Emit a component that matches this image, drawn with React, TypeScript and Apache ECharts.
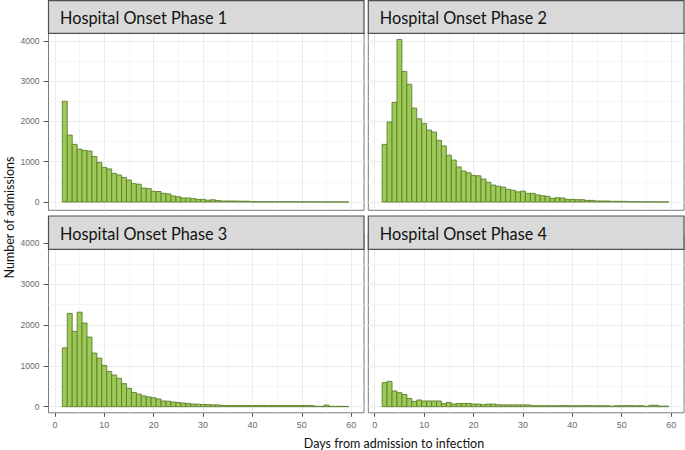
import React, { useEffect, useRef } from "react";
import * as echarts from "echarts";

const days = [2, 3, 4, 5, 6, 7, 8, 9, 10, 11, 12, 13, 14, 15, 16, 17, 18, 19, 20, 21, 22, 23, 24, 25, 26, 27, 28, 29, 30, 31, 32, 33, 34, 35, 36, 37, 38, 39, 40, 41, 42, 43, 44, 45, 46, 47, 48, 49, 50, 51, 52, 53, 54, 55, 56, 57, 58, 59];

const phase1 = [2500, 1660, 1430, 1310, 1280, 1265, 1130, 980, 860, 820, 710, 670, 610, 545, 455, 440, 345, 335, 265, 260, 215, 200, 150, 130, 100, 100, 85, 65, 65, 45, 55, 35, 25, 25, 25, 22, 20, 20, 8, 7, 6, 6, 5, 5, 4, 4, 4, 3, 3, 3, 3, 2, 2, 2, 2, 2, 2, 1];
const phase2 = [1430, 1985, 2470, 4030, 3240, 2920, 2330, 2065, 1950, 1785, 1735, 1530, 1390, 1160, 1040, 870, 770, 725, 660, 650, 570, 490, 420, 390, 370, 315, 290, 250, 270, 215, 215, 175, 155, 140, 90, 105, 100, 65, 65, 58, 58, 40, 40, 25, 25, 25, 17, 17, 15, 15, 5, 4, 4, 3, 3, 3, 2, 2];
const phase3 = [1440, 2285, 1845, 2315, 2050, 1705, 1315, 1190, 1010, 865, 775, 695, 565, 450, 350, 310, 265, 240, 220, 190, 140, 135, 115, 105, 90, 80, 65, 62, 55, 50, 45, 45, 32, 30, 28, 31, 29, 30, 27, 30, 32, 28, 30, 29, 31, 27, 30, 28, 30, 29, 27, 10, 9, 40, 10, 9, 10, 8];
const phase4 = [590, 620, 385, 345, 300, 205, 130, 165, 140, 140, 140, 140, 75, 105, 65, 80, 80, 80, 65, 65, 50, 65, 65, 50, 45, 45, 45, 45, 45, 45, 25, 26, 24, 25, 25, 24, 26, 25, 24, 25, 25, 26, 24, 25, 25, 24, 12, 25, 24, 26, 25, 24, 25, 10, 35, 35, 15, 15];

const panelTitles = ["Hospital Onset Phase 1", "Hospital Onset Phase 2", "Hospital Onset Phase 3", "Hospital Onset Phase 4"];
const panelSeries = [phase1, phase2, phase3, phase4];

const xTickValues = [0, 10, 20, 30, 40, 50, 60];
const xMinorValues = [5, 15, 25, 35, 45, 55];
const yTickValues = [0, 1000, 2000, 3000, 4000];
const yMinorValues = [500, 1500, 2500, 3500];

const xTitle = "Days from admission to infection";
const yTitle = "Number of admissions";

const panels = [
  { left: 48.5, width: 315.5, top: 31.4, height: 178.9, ymin: -206, ymax: 4232, stripY: 0.7, stripH: 32.6, showY: true, showX: false },
  { left: 368.3, width: 315.7, top: 31.4, height: 178.9, ymin: -206, ymax: 4232, stripY: 0.7, stripH: 32.6, showY: false, showX: false },
  { left: 48.5, width: 315.5, top: 233.9, height: 178.9, ymin: -149, ymax: 4232, stripY: 216, stripH: 33.3, showY: true, showX: true },
  { left: 368.3, width: 315.7, top: 233.9, height: 178.9, ymin: -149, ymax: 4232, stripY: 216, stripH: 33.3, showY: false, showX: true },
];

const X_MIN = -1.3;
const X_MAX = 62.6;
const BIN_WIDTH = 1;
const TICK_FONT = "Liberation Sans";
const TITLE_FONT = "Lato";
const BAR_FILL = "#9DCA55";
const BAR_STROKE = "#5F7D30";

export default function App() {
  const ref = useRef<HTMLDivElement>(null);

  useEffect(() => {
    if (!ref.current) return;
    const chart = echarts.init(ref.current, null, { renderer: "svg" });

    const grid: any[] = [];
    const xAxis: any[] = [];
    const yAxis: any[] = [];
    const series: any[] = [];
    const graphic: any[] = [];

    panels.forEach((p, i) => {
      grid.push({
        left: p.left,
        top: p.top,
        width: p.width,
        height: p.height,
        show: true,
        backgroundColor: "#ffffff",
        borderColor: "#7a7a7a",
        borderWidth: 1,
        containLabel: false,
      });
      xAxis.push({
        type: "value",
        gridIndex: i,
        min: X_MIN,
        max: X_MAX,
        axisLine: { show: false, onZero: false },
        axisTick: { show: p.showX, customValues: xTickValues, length: 4, lineStyle: { color: "#555555", width: 1 } },
        axisLabel: { show: p.showX, customValues: xTickValues, color: "#6a6a6a", fontSize: 9, fontFamily: TICK_FONT, margin: 8, formatter: (v: number) => String(v) },
        splitLine: { show: true, lineStyle: { color: "#EBEBEB", width: 1 } },
      });
      xAxis.push({
        type: "value",
        gridIndex: i,
        min: X_MIN,
        max: X_MAX,
        axisLine: { show: false, onZero: false },
        axisTick: { show: false, customValues: xMinorValues },
        axisLabel: { show: false },
        splitLine: { show: true, lineStyle: { color: "#F1F1F1", width: 0.7 } },
      });
      yAxis.push({
        type: "value",
        gridIndex: i,
        min: p.ymin,
        max: p.ymax,
        axisLine: { show: false, onZero: false },
        axisTick: { show: p.showY, customValues: yTickValues, length: 5, lineStyle: { color: "#555555", width: 1 } },
        axisLabel: { show: p.showY, customValues: yTickValues, color: "#6a6a6a", fontSize: 8.5, fontFamily: TICK_FONT, margin: 9, formatter: (v: number) => String(v) },
        splitLine: { show: true, lineStyle: { color: "#EBEBEB", width: 1 } },
      });
      yAxis.push({
        type: "value",
        gridIndex: i,
        min: p.ymin,
        max: p.ymax,
        axisLine: { show: false, onZero: false },
        axisTick: { show: false, customValues: yMinorValues },
        axisLabel: { show: false },
        splitLine: { show: true, lineStyle: { color: "#F1F1F1", width: 0.7 } },
      });
      series.push({
        type: "custom",
        xAxisIndex: 2 * i,
        yAxisIndex: 2 * i,
        data: days.map((d, k) => [d, panelSeries[i][k]]),
        encode: { x: 0, y: 1 },
        silent: true,
        renderItem: (params: any, api: any) => {
          const d = api.value(0);
          const v = api.value(1);
          const p0 = api.coord([d - BIN_WIDTH / 2, v]);
          const p1 = api.coord([d + BIN_WIDTH / 2, 0]);
          return {
            type: "rect",
            shape: { x: p0[0], y: p0[1], width: p1[0] - p0[0], height: p1[1] - p0[1] },
            style: { fill: BAR_FILL, stroke: BAR_STROKE, lineWidth: 0.9 },
          };
        },
      });
      graphic.push({
        type: "rect",
        z: 100,
        shape: { x: p.left, y: p.stripY, width: p.width, height: p.stripH },
        style: { fill: "#D9D9D9", stroke: "#505050", lineWidth: 1.2 },
      });
      graphic.push({
        type: "text",
        z: 101,
        x: p.left + 11.5,
        y: p.stripY + p.stripH / 2 + 0.5,
        style: {
          text: panelTitles[i],
          fontSize: 16.3,
          fontFamily: TITLE_FONT,
          fill: "#111111",
          align: "left",
          verticalAlign: "middle",
        },
      });
    });

    graphic.push({
      type: "text",
      z: 101,
      x: 9,
      y: 217.5,
      rotation: Math.PI / 2,
      style: { text: yTitle, fontSize: 12.5, fontFamily: TITLE_FONT, fill: "#111111", align: "center", verticalAlign: "middle" },
    });
    graphic.push({
      type: "text",
      z: 101,
      x: 394,
      y: 443.5,
      style: { text: xTitle, fontSize: 12.5, fontFamily: TITLE_FONT, fill: "#111111", align: "center", verticalAlign: "middle" },
    });

    chart.setOption({
      animation: false,
      backgroundColor: "#ffffff",
      grid,
      xAxis,
      yAxis,
      series,
      graphic,
    });

    return () => chart.dispose();
  }, []);

  return <div ref={ref} style={{ position: "absolute", left: 0, top: 0, width: 685, height: 450 }} />;
}
